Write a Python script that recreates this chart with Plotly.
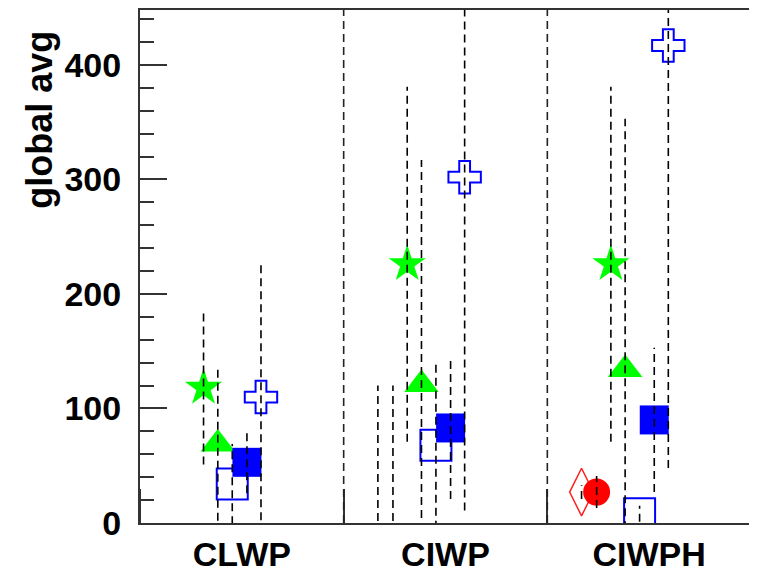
import plotly.graph_objects as go

# ---- data ----
categories = ["CLWP", "CIWP", "CIWPH"]

diamond_vals = [None, -30, 27]
diamond_errs = [None, 150, 6]
circle_vals = [None, -30, 27]
circle_errs = [None, 150, 14]
star_vals = [118, 226, 226]
star_errs = [67, 155, 155]
triangle_vals = [69, 121, 134]
triangle_errs = [67, 196, 219]
open_square_vals = [34, 68, 8]
open_square_errs = [35, 73, 7]
filled_square_vals = [53, 83, 90]
filled_square_errs = [27, 62, 63]
cross_vals = [110, 302, 417]
cross_errs = [119, 291, 369]

y_tick_vals = [0, 100, 200, 300, 400]
y_title = "global avg"

# ---- styles ----
series = [
    # values, errors, x-offset within category, symbol, color, size, line width
    (diamond_vals, diamond_errs, -0.332, "diamond-tall-open", "#ff2020", 34, 1.5),
    (circle_vals, circle_errs, -0.258, "circle", "#ff0000", 27, 0),
    (star_vals, star_errs, -0.188, "star", "#00ff00", 28, 0),
    (triangle_vals, triangle_errs, -0.118, "triangle-up", "#00ff00", 30, 0),
    (open_square_vals, open_square_errs, -0.047, "square-open", "#0000ff", 31, 2),
    (filled_square_vals, filled_square_errs, 0.025, "square", "#0000ff", 29, 0),
    (cross_vals, cross_errs, 0.094, "cross-open", "#0000ff", 27, 2),
]

fig = go.Figure()

# markers
for vals, errs, off, sym, col, size, lw in series:
    xs = [i + 0.5 + off for i in range(len(categories))]
    fig.add_trace(go.Scatter(
        x=xs, y=vals, mode="markers", showlegend=False,
        marker=dict(symbol=sym, color=col, size=size,
                    line=dict(width=lw, color=col)),
        cliponaxis=True,
    ))

# dashed error bars (drawn over markers)
for vals, errs, off, sym, col, size, lw in series:
    ex, ey = [], []
    for i, (v, e) in enumerate(zip(vals, errs)):
        if v is None or e is None:
            continue
        x = i + 0.5 + off
        ex += [x, x, None]
        ey += [v - e, v + e, None]
    fig.add_trace(go.Scatter(
        x=ex, y=ey, mode="lines", showlegend=False,
        line=dict(color="black", width=1.6, dash="8px,5px"),
    ))

# category separators
for b in range(1, len(categories)):
    fig.add_shape(type="line", xref="x", yref="paper", x0=b, x1=b, y0=0, y1=1,
                  line=dict(color="#222", width=1.6, dash="8px,5px"))

font_main = dict(family="Liberation Sans, Arial, sans-serif", size=34, color="black", weight="bold")

# y-axis title placed near the top, like the reference
fig.add_annotation(
    text=y_title, xref="paper", yref="paper",
    x=-0.1637, y=0.786, xanchor="center", yanchor="middle",
    textangle=-90, showarrow=False,
    font=dict(family="Liberation Sans, Arial, sans-serif", size=36, color="black", weight="bold"),
)

fig.update_layout(
    width=757, height=578,
    margin=dict(l=132, r=14, t=2, b=63),
    paper_bgcolor="white", plot_bgcolor="white",
    showlegend=False,
    xaxis=dict(
        range=[0, len(categories)],
        tickvals=[i + 0.5 for i in range(len(categories))],
        ticktext=categories,
        ticks="", showgrid=False, zeroline=False, automargin=False,
        showline=True, linecolor="#333", linewidth=2, mirror=True,
        tickfont=font_main, ticklabelstandoff=0,
        minor=dict(tick0=0, dtick=1, ticks="inside", ticklen=34,
                   tickwidth=1.5, tickcolor="#333", showgrid=False),
    ),
    yaxis=dict(
        range=[0, 448],
        tickvals=y_tick_vals,
        ticks="inside", ticklen=27, tickwidth=1.5, tickcolor="#333",
        showgrid=False, zeroline=False, automargin=False,
        showline=True, linecolor="#333", linewidth=2, mirror=True,
        tickfont=font_main, ticklabelstandoff=10,
        minor=dict(dtick=20, ticks="inside", ticklen=14, tickwidth=1.5,
                   tickcolor="#333", showgrid=False),
    ),
)

fig.write_html("out.html")
